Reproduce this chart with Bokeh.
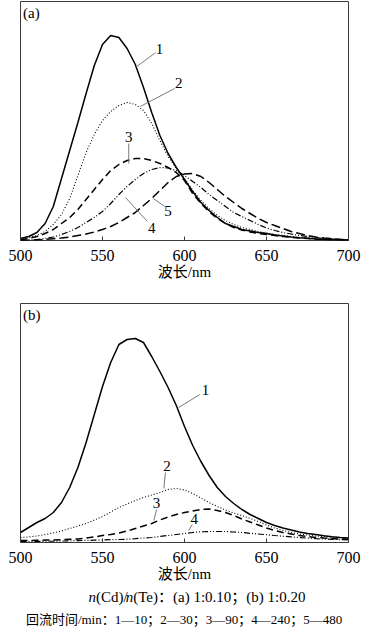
from bokeh.plotting import figure
from bokeh.models import Range1d, ColumnDataSource, Label, FixedTicker
from bokeh.layouts import column
from bokeh.embed import file_html
from bokeh.resources import INLINE
from bokeh.core.properties import value

# ---------------- data ----------------
wavelength = [500, 505, 510, 515, 520, 525, 530, 535, 540, 545, 550, 555, 560, 565, 570,
              575, 580, 585, 590, 595, 600, 605, 610, 615, 620, 625, 630, 635, 640, 645,
              650, 655, 660, 665, 670, 675, 680, 685, 690, 695, 700]

# panel (a)  n(Cd)/n(Te) = 1:0.10
a1 = [2, 4, 8, 17, 34, 62, 90, 118, 147, 175, 196, 205, 203, 192, 176, 153, 128, 105, 87, 73,
      61, 49, 38, 30, 23, 17, 14, 11, 9.5, 8, 7, 5.5, 4.5, 3.5, 2.8, 2.2, 1.6, 1.2, 0.8, 0.5, 0.3]
a2 = [1.5, 3, 5, 9, 16, 26, 42, 65, 88, 106, 120, 129, 135, 138, 136, 130, 117, 100, 84, 72,
      62, 50, 40, 32, 25, 20, 16, 13, 11, 9, 7.5, 6, 5, 4, 3, 2.4, 1.8, 1.3, 0.9, 0.6, 0.4]
a3 = [1, 2, 4, 7, 11, 17, 23, 31, 41, 51, 61, 70, 76, 80, 82, 82, 80, 77, 73, 68,
      60, 47, 37, 29, 22, 17, 13, 10.5, 8.5, 7, 6, 5, 4, 3.2, 2.5, 2, 1.5, 1.1, 0.8, 0.5, 0.3]
a4 = [0.3, 0.6, 1, 2, 3.5, 6, 9, 13, 18, 23, 29, 37, 46, 54, 61, 67, 71, 73, 72.5, 70,
      65, 59, 53, 46, 40, 34, 28, 24, 20, 16, 12.5, 10, 8, 6.5, 5, 4, 3, 2.2, 1.6, 1.1, 0.7]
a5 = [0, 0.3, 0.6, 1, 1.8, 2.5, 3.5, 5, 6.5, 8.5, 11, 14, 18, 23, 28, 35, 42, 50, 58, 64,
      66.5, 67, 64, 58, 51, 44, 38, 32, 27, 22, 18, 15, 12, 9, 7, 5, 3.5, 2.5, 1.8, 1.2, 0.7]

# panel (b)  n(Cd)/n(Te) = 1:0.20
b1 = [10, 15, 20, 24, 30, 40, 55, 75, 100, 128, 156, 180, 198, 203, 204, 200, 186, 171, 155, 137,
      116, 97, 81, 67, 55, 46, 39, 33, 28, 24, 20, 17, 14.5, 12.5, 10.5, 9, 8, 6.8, 5.8, 5, 4.5]
b2 = [5, 5.5, 6.5, 8, 9.5, 11.5, 14, 16.5, 19, 22.5, 26, 30.5, 35, 38.5, 42, 45, 47.5, 50, 53, 54,
      52.5, 49, 44.5, 40, 36, 32.5, 29.5, 27, 24, 21, 17.5, 14.5, 12, 10, 8.5, 7.5, 6.5, 5.8, 5.2, 4.7, 4.3]
b3 = [2, 2, 2.2, 2.4, 2.6, 2.9, 3.2, 3.5, 4.5, 5.5, 7, 8, 9.5, 11.5, 14, 16.5, 19, 22.5, 25.5, 28,
      30, 31.5, 33, 33.5, 32, 30, 27, 23.5, 20.5, 17.5, 14.5, 12, 10, 8.5, 7, 6, 5, 4.4, 3.9, 3.5, 3.3]
b4 = [1, 1, 1.1, 1.2, 1.3, 1.5, 1.7, 1.9, 2.1, 2.3, 2.5, 2.8, 3, 3.3, 3.8, 4.5, 5, 6, 7, 8,
      9, 10, 10.7, 11, 11, 11, 10.5, 10, 9.2, 8.5, 7.8, 7, 6.3, 5.6, 5, 4.4, 3.9, 3.5, 3.1, 2.9, 2.7]

x_ticks = [500, 550, 600, 650, 700]
x_title = "波长/nm"

# curve number annotations: label anchor and leader line (data units)
a_lab_text = ["1", "2", "3", "4", "5"]
a_lab_x = [584.8, 596.5, 566.0, 580.0, 590.0]
a_lab_y = [192, 158, 104, 13, 30]
a_lead_x0 = [570.0, 573.0, 566.0, 564.0, 581.0]
a_lead_y0 = [173, 134, 77, 43, 42]
a_lead_x1 = [582.5, 594.0, 566.0, 577.4, 588.0]
a_lead_y1 = [188, 152, 97, 19, 34]

b_lab_text = ["1", "2", "3", "4"]
b_lab_x = [612.8, 589.4, 583.0, 606.0]
b_lab_y = [153, 77, 40, 24]
b_lead_x0 = [596.5, 587.4, 581.3, 602.6]
b_lead_y0 = [135, 54, 22, 12]
b_lead_x1 = [609.3, 588.4, 583.0, 604.7]
b_lead_y1 = [148, 70, 33, 18]

caption1_normal = ["(Cd)/", "(Te)：(a) 1:0.10；(b) 1:0.20"]
caption1_italic = ["n", "n"]
caption2 = "回流时间/min：1—10；2—30；3—90；4—240；5—480"

# ---------------- styles ----------------
LATIN = "Liberation Serif"
SERIF = "Liberation Serif, Noto Sans CJK SC"
styles = [("solid", 1.5), ("1 2", 1.1), ("7 4", 1.5), ("6 2 1 2 1 2", 1.2), ("9 4", 1.5)]
FRAME = "#3a3a3a"
W = 367


def make_panel(series, lab_text, lab_x, lab_y, lx0, ly0, lx1, ly1, tag, top, height):
    p = figure(width=W, height=height, output_backend="svg", toolbar_location=None,
               x_range=Range1d(500, 700), y_range=Range1d(0, 239), y_axis_type=None,
               min_border_left=20, min_border_right=19, min_border_top=top,
               min_border_bottom=height - top - 239)
    p.xgrid.visible = False
    p.ygrid.visible = False
    p.outline_line_color = FRAME
    p.outline_line_width = 1
    p.background_fill_color = "white"
    p.border_fill_color = "white"

    for ys, (dash, w) in zip(series, styles):
        p.line(wavelength, ys, line_color="black", line_width=w, line_dash=dash)

    p.segment(x0=lx0, y0=ly0, x1=lx1, y1=ly1, line_color="#6a6a6a", line_width=0.9)
    src = ColumnDataSource(dict(x=lab_x, y=lab_y, t=lab_text))
    p.text(x="x", y="y", text="t", source=src, text_font=value(LATIN),
           text_font_size="15px", text_align="center", text_baseline="middle",
           text_color="black")

    p.add_layout(Label(x=501.6, y=236, text=tag, text_font=LATIN,
                       text_font_size="15px", text_baseline="top", text_align="left",
                       text_color="black"))

    ax = p.xaxis[0]
    ax.ticker = FixedTicker(ticks=x_ticks)
    ax.minor_tick_line_color = None
    ax.major_tick_in = 4
    ax.major_tick_out = 0
    ax.major_tick_line_color = FRAME
    ax.axis_line_color = None
    ax.major_label_text_font = LATIN
    ax.major_label_text_font_size = "16px"
    ax.major_label_text_color = "black"
    ax.major_label_standoff = 9
    ax.axis_label = x_title
    ax.axis_label_text_font = SERIF
    ax.axis_label_text_font_size = "15px"
    ax.axis_label_text_font_style = "normal"
    ax.axis_label_text_color = "black"
    ax.axis_label_standoff = 0
    return p


pa = make_panel([a1, a2, a3, a4, a5], a_lab_text, a_lab_x, a_lab_y,
                a_lead_x0, a_lead_y0, a_lead_x1, a_lead_y1, "(a)", 1, 290)
pb = make_panel([b1, b2, b3, b4], b_lab_text, b_lab_x, b_lab_y,
                b_lead_x0, b_lead_y0, b_lead_x1, b_lead_y1, "(b)", 13, 299)

# caption block (1 data unit = 1 px)
CH = 44
pc = figure(width=W, height=CH, output_backend="svg", toolbar_location=None,
            x_range=Range1d(0, W), y_range=Range1d(0, CH), x_axis_type=None,
            y_axis_type=None, min_border=0)
pc.xgrid.visible = False
pc.ygrid.visible = False
pc.outline_line_color = None

fs = 15
n_w = 0.5 * fs + 1
cd_w = 2.111 * fs + 1.5
x_start = 76
pc.text(x=[x_start, x_start + n_w + cd_w], y=[37, 37], text=caption1_italic,
        text_font=value(LATIN), text_font_style="italic",
        text_font_size=f"{fs}px", text_baseline="middle", text_align="left", text_color="black")
pc.text(x=[x_start + n_w, x_start + 2 * n_w + cd_w], y=[37, 37], text=caption1_normal,
        text_font=value(SERIF), text_font_size=f"{fs}px", text_baseline="middle",
        text_align="left", text_color="black")
pc.text(x=[183], y=[14], text=[caption2], text_font=value(SERIF), text_font_size="13px",
        text_baseline="middle", text_align="center", text_color="black")

layout = column(pa, pb, pc, spacing=0)
open("out.html", "w").write(file_html(layout, INLINE))
